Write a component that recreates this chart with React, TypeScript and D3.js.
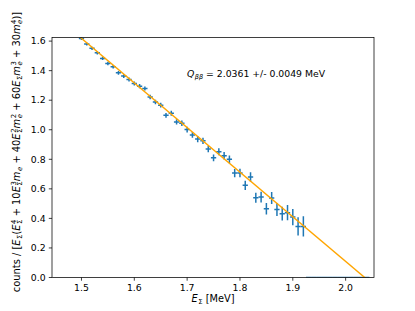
import React from "react";
import * as d3 from "d3";

// bin centres (MeV) and normalised counts
const energies = [
  1.50, 1.51, 1.52, 1.53, 1.54, 1.55, 1.56, 1.57, 1.58, 1.59,
  1.60, 1.61, 1.62, 1.63, 1.64, 1.65, 1.66, 1.67, 1.68, 1.69,
  1.70, 1.71, 1.72, 1.73, 1.74, 1.75, 1.76, 1.77, 1.78, 1.79,
  1.80, 1.81, 1.82, 1.83, 1.84, 1.85, 1.86, 1.87, 1.88, 1.89,
  1.90, 1.91, 1.92,
];
const values = [
  1.618, 1.580, 1.551, 1.521, 1.483, 1.449, 1.426, 1.385, 1.363, 1.340,
  1.313, 1.295, 1.279, 1.222, 1.188, 1.166, 1.098, 1.112, 1.053, 1.044,
  1.001, 0.965, 0.937, 0.925, 0.870, 0.810, 0.851, 0.824, 0.800, 0.707,
  0.707, 0.624, 0.680, 0.540, 0.544, 0.466, 0.538, 0.461, 0.432, 0.439,
  0.409, 0.346, 0.346,
];
const errors = [
  0.010, 0.010, 0.011, 0.011, 0.011, 0.012, 0.012, 0.012, 0.013, 0.013,
  0.013, 0.014, 0.014, 0.015, 0.015, 0.016, 0.016, 0.017, 0.018, 0.018,
  0.019, 0.020, 0.021, 0.021, 0.022, 0.023, 0.024, 0.025, 0.026, 0.028,
  0.029, 0.031, 0.032, 0.034, 0.036, 0.039, 0.041, 0.044, 0.047, 0.051,
  0.055, 0.062, 0.068,
];
// empty bins past the endpoint
const emptyBins = [1.93, 1.94, 1.95, 1.96, 1.97, 1.98, 1.99, 2.00, 2.01, 2.02, 2.03, 2.04];

const binHalf = 0.005;
const qbb = 2.0361;
const qbbErr = 0.0049;
const fitSlope = -3.019;
const fitRange = [1.47, 2.05];

const xTicks = [1.5, 1.6, 1.7, 1.8, 1.9, 2.0];
const yTicks = [0.0, 0.2, 0.4, 0.6, 0.8, 1.0, 1.2, 1.4, 1.6];

const W = 415, H = 311;
const margin = {left: 52, right: 41, top: 37.4, bottom: 33.5};
const blue = "#1f77b4";
const font = "DejaVu Sans";
const fs = 9.3;

type Part = {t: string, it?: boolean, sub?: string, subIt?: boolean, sup?: string};

// crude mathtext: base, subscript, superscript stacked over it
const mathSpans = (parts: Part[], fs: number) => {
  const out: any[] = [];
  const small = fs * 0.7;
  let off = 0;
  parts.forEach((p, i) => {
    out.push(<tspan key={i + "b"} dy={-off} fontStyle={p.it ? "italic" : "normal"}>{p.t}</tspan>);
    off = 0;
    if (p.sub) {
      const d = fs * 0.22;
      out.push(<tspan key={i + "s"} dx={fs * 0.05} dy={d} fontSize={small} fontStyle={p.subIt ? "italic" : "normal"}>{p.sub}</tspan>);
      off = d;
    }
    if (p.sup) {
      const d = -fs * 0.42;
      const back = p.sub ? -small * 0.62 * p.sub.length : fs * 0.05;
      out.push(<tspan key={i + "p"} dx={back} dy={d - off} fontSize={small}>{p.sup}</tspan>);
      off = d;
    }
  });
  return out;
};

const yLabelParts: Part[] = [
  {t: "counts / ["},
  {t: "E", it: true, sub: "Σ"},
  {t: "("},
  {t: "E", it: true, sub: "Σ", sup: "4"},
  {t: " + 10"},
  {t: "E", it: true, sub: "Σ", sup: "3"},
  {t: "m", it: true, sub: "e", subIt: true},
  {t: " + 40"},
  {t: "E", it: true, sub: "Σ", sup: "2"},
  {t: "m", it: true, sub: "e", subIt: true, sup: "2"},
  {t: " + 60"},
  {t: "E", it: true, sub: "Σ"},
  {t: "m", it: true, sub: "e", subIt: true, sup: "3"},
  {t: " + 30"},
  {t: "m", it: true, sub: "e", subIt: true, sup: "4"},
  {t: ")]"},
];

export default function App() {
  const x = d3.scaleLinear().domain([1.4442, 2.0537]).range([margin.left, W - margin.right]);
  const y = d3.scaleLinear().domain([0, 1.625]).range([H - margin.bottom, margin.top]);
  const x0 = margin.left, x1 = W - margin.right, y0 = H - margin.bottom, y1 = margin.top;

  const fit = (e: number) => fitSlope * (e - qbb);
  const fitLine = d3.line<number>().x(e => x(e)).y(e => y(fit(e)))(fitRange);
  const fmt = d3.format(".1f");

  return (
    <svg width={W} height={H} style={{position: "absolute", left: 0, top: 0, background: "#fff"}}
         fontFamily={font}>
      <defs>
        <clipPath id="plot-area">
          <rect x={x0} y={y1} width={x1 - x0} height={y0 - y1}/>
        </clipPath>
      </defs>
      <g clipPath="url(#plot-area)">
        {/* empty bins on the zero line */}
        {emptyBins.map((e, i) => (
          <line key={"z" + i} x1={x(e - binHalf)} x2={x(e + binHalf)} y1={y(0)} y2={y(0)}
                stroke={blue} strokeWidth={1.5}/>
        ))}
        {energies.map((e, i) => (
          <g key={i} stroke={blue} strokeWidth={1.5}>
            <line x1={x(e - binHalf)} x2={x(e + binHalf)} y1={y(values[i])} y2={y(values[i])}/>
            <line x1={x(e)} x2={x(e)} y1={y(values[i] - errors[i])} y2={y(values[i] + errors[i])}/>
          </g>
        ))}
        <path d={fitLine!} fill="none" stroke="orange" strokeWidth={1.4}/>
      </g>

      {/* frame */}
      <rect x={x0} y={y1} width={x1 - x0} height={y0 - y1} fill="none" stroke="#000" strokeWidth={0.75}/>

      {/* x axis */}
      {xTicks.map(t => (
        <g key={t} transform={`translate(${x(t)},${y0})`}>
          <line y2={3.2} stroke="#000" strokeWidth={0.75}/>
          <text y={13.4} textAnchor="middle" fontSize={fs}>{fmt(t)}</text>
        </g>
      ))}
      <text x={(x0 + x1) / 2} y={302} textAnchor="middle" fontSize={9.8}>
        {mathSpans([{t: "E", it: true, sub: "Σ"}, {t: " [MeV]"}], 9.8)}
      </text>

      {/* y axis */}
      {yTicks.map(t => (
        <g key={t} transform={`translate(${x0},${y(t)})`}>
          <line x2={-3.2} stroke="#000" strokeWidth={0.75}/>
          <text x={-6.4} dy="0.35em" textAnchor="end" fontSize={fs}>{fmt(t)}</text>
        </g>
      ))}
      <text transform={`translate(20,152) rotate(-90)`} textAnchor="middle" fontSize={9.9}>
        {mathSpans(yLabelParts, 9.9)}
      </text>

      {/* fit result */}
      <text x={187} y={77} fontSize={fs}>
        {mathSpans([{t: "Q", it: true, sub: "ββ", subIt: true},
          {t: ` = ${qbb.toFixed(4)} +/- ${qbbErr.toFixed(4)} MeV`}], fs)}
      </text>
    </svg>
  );
}
